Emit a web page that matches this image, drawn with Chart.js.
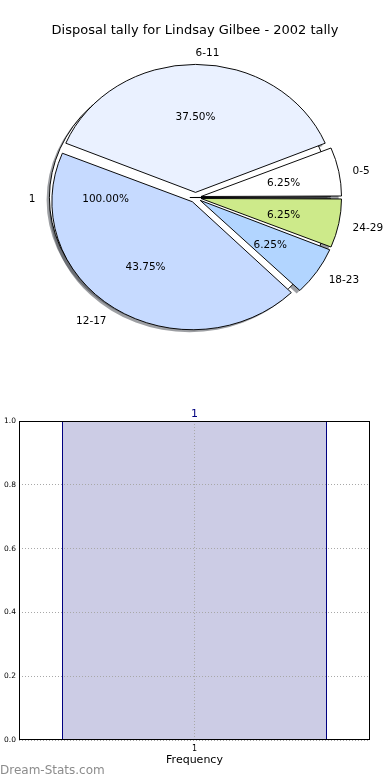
<!DOCTYPE html>
<html lang="en">
<head>
<meta charset="UTF-8" />
<title>Disposal tally for Lindsay Gilbee</title>
<script src="https://cdn.jsdelivr.net/npm/chart.js"></script>
<style>
  body { margin: 0; background: #fff; font-family: "DejaVu Sans", sans-serif; }
  .page { position: relative; width: 390px; height: 780px; overflow: hidden; }
  .page canvas { position: absolute; left: 0; }
  #title { position: absolute; top: 23px; left: 0; width: 390px; text-align: center;
           font-size: 13px; line-height: 13px; color: #000; }
  #mark { position: absolute; left: 0; top: 764px; font-size: 12px; line-height: 12px;
          color: #8c8c8c; }
</style>
</head>
<body>
<div class="page">
  <canvas id="base" width="390" height="395" style="top:0"></canvas>
  <canvas id="pie" width="390" height="395" style="top:0"></canvas>
  <canvas id="bar" width="390" height="385" style="top:395px"></canvas>
  <div id="title">Disposal tally for Lindsay Gilbee - 2002 tally</div>
  <div id="mark">Dream-Stats.com</div>
</div>

<script>
  // pie: disposals per age bracket
  const ageGroups = ['0-5', '6-11', '12-17', '18-23', '24-29'];
  const disposals = [1, 6, 7, 1, 1];
  const sliceColours = ['#ffffff', '#eaf1ff', '#c6daff', '#b2d5ff', '#cdea8a'];

  // the single background wedge drawn under the pie
  const seasonLabels = ['1'];
  const seasonShare = [1];

  // bar: frequency
  const freqLabels = ['1'];
  const freqValues = [1];

  const R = 140.5;        // horizontal radius
  const SQUASH = 0.911;   // pie is drawn as an ellipse
  const EXPLODE = 22.4;   // chart.js shifts by offset/4 -> 5.6px

  Chart.defaults.font.family = '"DejaVu Sans", sans-serif';
  Chart.defaults.color = '#000';

  let baseChart = null;

  // keep every wedge the same radius even when it is offset
  const fixRadius = {
    id: 'fixRadius',
    afterDatasetUpdate(chart) {
      chart.getDatasetMeta(0).data.forEach(arc => {
        const shift = (arc.options.offset || 0) / 4;
        arc.outerRadius = R - shift * (1 - Math.sin(Math.min(Math.PI, arc.circumference)));
      });
    }
  };

  const squash = {
    id: 'squash',
    beforeDatasetsDraw(chart) {
      const arc = chart.getDatasetMeta(0).data[0];
      const ctx = chart.ctx;
      ctx.save();
      ctx.translate(arc.x, arc.y);
      ctx.scale(1, SQUASH);
      ctx.translate(-arc.x, -arc.y);
    },
    afterDatasetsDraw(chart) {
      chart.ctx.restore();
    }
  };

  function drawShadow(ctx, arc) {
    const shift = (arc.options.offset || 0) / 4;
    const mid = (arc.startAngle + arc.endAngle) / 2;
    const x = arc.x + Math.cos(mid) * shift - 2.8;
    const y = arc.y + Math.sin(mid) * shift + 2.8;
    ctx.beginPath();
    ctx.moveTo(x, y);
    ctx.arc(x, y, R, arc.startAngle, arc.endAngle);
    ctx.closePath();
    ctx.fill();
  }

  function labelChart(ctx, chart) {
    const arcs = chart.getDatasetMeta(0).data;
    const ds = chart.data.datasets[0];
    const total = ds.data.reduce((a, b) => a + b, 0);
    arcs.forEach((arc, i) => {
      const shift = (arc.options.offset || 0) / 4;
      const mid = (arc.startAngle + arc.endAngle) / 2;
      const c = Math.cos(mid), s = Math.sin(mid);
      const lr = R * 1.1 + shift, pr = R * 0.6 + shift;
      const y0 = arc.y + 2;
      ctx.textAlign = c < -1e-6 ? 'right' : 'left';
      ctx.fillText(chart.data.labels[i], arc.x + c * lr, y0 + s * lr * SQUASH);
      ctx.textAlign = 'center';
      ctx.fillText((ds.data[i] / total * 100).toFixed(2) + '%', arc.x + c * pr, y0 + s * pr * SQUASH);
    });
  }

  // texts of both pies go on the top canvas, above every wedge
  const pieLabels = {
    id: 'pieLabels',
    afterDraw(chart) {
      const ctx = chart.ctx;
      ctx.save();
      ctx.font = '10.5px "DejaVu Sans"';
      ctx.fillStyle = '#000';
      ctx.textBaseline = 'middle';
      if (baseChart) labelChart(ctx, baseChart);
      labelChart(ctx, chart);
      ctx.restore();
    }
  };

  function pieOptions() {
    return {
      responsive: false,
      animation: false,
      events: [],
      rotation: 90,
      radius: R,
      layout: { padding: { left: 1 } },
      plugins: { legend: { display: false }, tooltip: { enabled: false } }
    };
  }

  // chart.js draws clockwise from 3 o'clock, matplotlib went anticlockwise
  const pieChart = new Chart(document.getElementById('pie'), {
    type: 'pie',
    data: {
      labels: ageGroups.slice().reverse(),
      datasets: [{
        data: disposals.slice().reverse(),
        backgroundColor: sliceColours.slice().reverse(),
        borderColor: '#000',
        borderWidth: 1,
        offset: EXPLODE
      }]
    },
    options: pieOptions(),
    plugins: [fixRadius, squash, pieLabels]
  });

  const shadows = {
    id: 'shadows',
    beforeDatasetsDraw(chart) {
      const ctx = chart.ctx;
      ctx.save();
      ctx.fillStyle = 'rgba(60,64,72,0.5)';
      chart.getDatasetMeta(0).data.forEach(arc => drawShadow(ctx, arc));
      pieChart.getDatasetMeta(0).data.forEach(arc => drawShadow(ctx, arc));
      ctx.restore();
    }
  };

  baseChart = new Chart(document.getElementById('base'), {
    type: 'pie',
    data: {
      labels: seasonLabels,
      datasets: [{
        data: seasonShare,
        backgroundColor: '#ffffff',
        borderColor: '#000',
        borderWidth: 1,
        offset: EXPLODE
      }]
    },
    options: pieOptions(),
    plugins: [fixRadius, squash, shadows]
  });
  pieChart.draw();

  const frame = {
    id: 'frame',
    afterDraw(chart) {
      const a = chart.chartArea;
      const ctx = chart.ctx;
      ctx.save();
      ctx.strokeStyle = '#000';
      ctx.lineWidth = 1;
      ctx.strokeRect(Math.round(a.left) + 0.5, Math.round(a.top) + 0.5,
                     Math.round(a.right - a.left) - 1, Math.round(a.bottom - a.top) - 1);
      ctx.restore();
    }
  };

  const barValues = {
    id: 'barValues',
    afterDatasetsDraw(chart) {
      const ctx = chart.ctx;
      ctx.save();
      ctx.font = '11px "DejaVu Sans"';
      ctx.fillStyle = '#000080';
      ctx.textAlign = 'center';
      ctx.textBaseline = 'alphabetic';
      chart.getDatasetMeta(0).data.forEach((bar, i) => {
        ctx.fillText(String(freqValues[i]), bar.x, bar.y - 4);
      });
      ctx.restore();
    }
  };

  new Chart(document.getElementById('bar'), {
    type: 'bar',
    data: {
      labels: freqLabels,
      datasets: [{
        data: freqValues,
        backgroundColor: '#ccccE5',
        borderColor: '#000080',
        borderWidth: 1,
        barPercentage: 265 / 351,
        categoryPercentage: 1
      }]
    },
    options: {
      responsive: false,
      animation: false,
      events: [],
      layout: { padding: { top: 26, right: 20 } },
      plugins: { legend: { display: false }, tooltip: { enabled: false } },
      scales: {
        x: {
          grid: { offset: false, drawTicks: false, color: '#a8a8a8', z: 1 },
          border: { display: false, dash: [1, 2] },
          ticks: { font: { size: 8 }, padding: 4 },
          title: { display: true, text: 'Frequency', font: { size: 11 }, padding: { top: 0, bottom: 13 } },
          afterFit(scale) { scale.height = 40; }
        },
        y: {
          min: 0,
          max: 1,
          grid: { drawTicks: false, color: '#a8a8a8', z: 1 },
          border: { display: false, dash: [1, 2] },
          ticks: { stepSize: 0.2, font: { size: 7.5 }, padding: 3, callback: v => v.toFixed(1) },
          afterFit(scale) { scale.width = 19; }
        }
      }
    },
    plugins: [frame, barValues]
  });
</script>
</body>
</html>
